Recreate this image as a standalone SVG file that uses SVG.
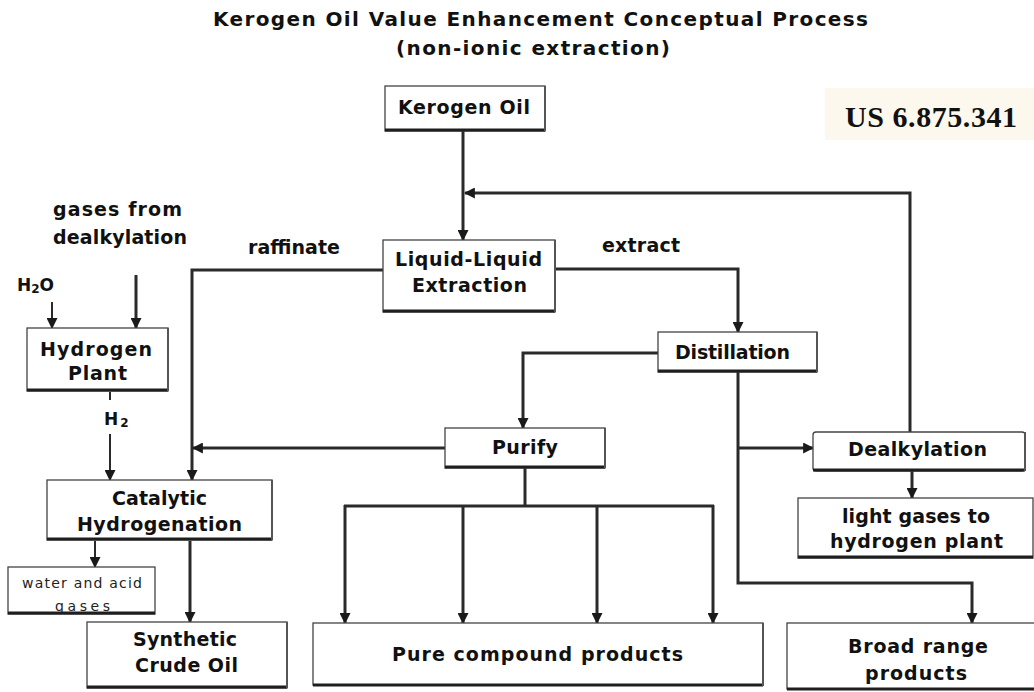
<svg xmlns="http://www.w3.org/2000/svg" width="1034" height="692" viewBox="0 0 1034 692">
<defs>
<marker id="ah" viewBox="0 0 10 10" refX="9" refY="5" markerWidth="11" markerHeight="11" markerUnits="userSpaceOnUse" orient="auto"><path d="M0,0 L10,5 L0,10 z" fill="#1a1a1a"/></marker>
<style>
.box{fill:#fff;stroke:#444;stroke-width:1.3}
.sh{fill:none;stroke:#1e1e1e;stroke-width:3}
.shr{fill:none;stroke:#555;stroke-width:2}
.conn{fill:none;stroke:#2a2a2a;stroke-width:3}
.thin{fill:none;stroke:#2a2a2a;stroke-width:2}
.t{font-family:"DejaVu Sans","Liberation Sans",sans-serif;font-weight:bold;font-size:19px;fill:#111;text-anchor:middle}
.s{font-family:"DejaVu Sans","Liberation Sans",sans-serif;font-size:14px;fill:#222;text-anchor:middle}
.title{font-family:"DejaVu Sans","Liberation Sans",sans-serif;font-weight:bold;font-size:20px;fill:#111;text-anchor:middle}
</style>
</defs>
<rect width="1034" height="692" fill="#fff"/>

<g id="title">
<text class="title" x="540.5" y="26" textLength="655" lengthAdjust="spacing">Kerogen Oil Value Enhancement Conceptual Process</text>
<text class="title" x="533" y="55" textLength="274" lengthAdjust="spacing">(non-ionic extraction)</text>
</g>

<g id="patent">
<rect x="825" y="88" width="209" height="52" fill="#fcf8ee"/>
<text x="845" y="127" font-family="'Liberation Serif','Times New Roman',serif" font-weight="bold" font-size="30" fill="#111" textLength="172" lengthAdjust="spacing">US 6.875.341</text>
</g>

<g id="connectors">
<path class="conn" d="M463,131 V240" marker-end="url(#ah)"/>
<path class="conn" d="M910,432 V193 H465" marker-end="url(#ah)"/>
<path class="conn" d="M383,270 H192 V480" marker-end="url(#ah)"/>
<path class="conn" d="M556,269 H738 V332" marker-end="url(#ah)"/>
<path class="conn" d="M658,353 H523 V428" marker-end="url(#ah)"/>
<path class="conn" d="M445,448 H193" marker-end="url(#ah)"/>
<path class="conn" d="M738,372 V583 H972 V623" marker-end="url(#ah)"/>
<path class="conn" d="M738,448 H813" marker-end="url(#ah)"/>
<path class="conn" d="M912,471 V498" marker-end="url(#ah)"/>
<path class="conn" d="M525,468 V506"/>
<path class="conn" d="M344,506 H714"/>
<path class="conn" d="M345,505 V623" marker-end="url(#ah)"/>
<path class="conn" d="M463,505 V623" marker-end="url(#ah)"/>
<path class="conn" d="M597,505 V623" marker-end="url(#ah)"/>
<path class="conn" d="M713,505 V623" marker-end="url(#ah)"/>
<path class="thin" d="M52,302 V328" marker-end="url(#ah)"/>
<path class="conn" d="M136,275 V328" marker-end="url(#ah)"/>
<path class="thin" d="M110,392 V400"/>
<path class="thin" d="M110,434 V480" marker-end="url(#ah)"/>
<path class="thin" d="M95,541 V567" marker-end="url(#ah)"/>
<path class="conn" d="M190,541 V622" marker-end="url(#ah)"/>
</g>

<g id="kerogen-oil">
<rect class="box" x="385" y="86" width="160" height="45"/>
<path class="sh" d="M385,130 H545"/>
<path class="shr" d="M545,86 V131"/>
<text class="t" x="464" y="114" textLength="132" lengthAdjust="spacing">Kerogen Oil</text>
</g>

<g id="liquid-liquid-extraction">
<rect class="box" x="383" y="240" width="172" height="72"/>
<path class="sh" d="M383,311 H555"/>
<path class="shr" d="M555,240 V312"/>
<text class="t" x="468.5" y="266" textLength="147" lengthAdjust="spacing">Liquid-Liquid</text>
<text class="t" x="469.5" y="292" textLength="115" lengthAdjust="spacing">Extraction</text>
</g>

<g id="labels">
<text class="t" x="117.5" y="216" textLength="129" lengthAdjust="spacing">gases from</text>
<text class="t" x="120" y="244" textLength="134" lengthAdjust="spacing">dealkylation</text>
<text class="t" x="294" y="254" textLength="92" lengthAdjust="spacing">raffinate</text>
<text class="t" x="641" y="252" textLength="78" lengthAdjust="spacing">extract</text>
<text class="t" x="17" y="291" style="text-anchor:start;font-size:17px">H<tspan font-size="12" dy="2">2</tspan><tspan dy="-2">O</tspan></text>
<text class="t" x="104" y="425" style="text-anchor:start;font-size:17px">H<tspan font-size="12" dx="2" dy="2">2</tspan></text>
</g>

<g id="hydrogen-plant">
<rect class="box" x="27" y="328" width="141" height="63"/>
<path class="sh" d="M27,390 H168"/>
<path class="shr" d="M168,328 V391"/>
<text class="t" x="96" y="356" textLength="112" lengthAdjust="spacing">Hydrogen</text>
<text class="t" x="97.5" y="380" textLength="59" lengthAdjust="spacing">Plant</text>
</g>

<g id="distillation">
<rect class="box" x="658" y="332" width="159" height="40"/>
<path class="sh" d="M658,371 H817"/>
<path class="shr" d="M817,332 V372"/>
<text class="t" x="732.5" y="359" textLength="115" lengthAdjust="spacing">Distillation</text>
</g>

<g id="purify">
<rect class="box" x="445" y="428" width="160" height="40"/>
<path class="sh" d="M445,467 H605"/>
<path class="shr" d="M605,428 V468"/>
<text class="t" x="525" y="454" textLength="66" lengthAdjust="spacing">Purify</text>
</g>

<g id="dealkylation">
<rect class="box" x="813" y="432" width="212" height="39" rx="3"/>
<path class="sh" d="M813,470 H1025"/>
<path class="shr" d="M1025,432 V471"/>
<text class="t" x="917.5" y="456" textLength="139" lengthAdjust="spacing">Dealkylation</text>
</g>

<g id="catalytic-hydrogenation">
<rect class="box" x="47" y="480" width="225" height="60"/>
<path class="sh" d="M47,539 H272"/>
<path class="shr" d="M272,480 V540"/>
<text class="t" x="159.5" y="505" textLength="95" lengthAdjust="spacing">Catalytic</text>
<text class="t" x="159.5" y="531" textLength="165" lengthAdjust="spacing">Hydrogenation</text>
</g>

<g id="light-gases">
<rect class="box" x="798" y="498" width="235" height="60"/>
<path class="sh" d="M798,557 H1033"/>
<text class="t" x="916" y="523" textLength="148" lengthAdjust="spacing">light gases to</text>
<text class="t" x="916.5" y="548" textLength="173" lengthAdjust="spacing">hydrogen plant</text>
</g>

<g id="water-acid-gases">
<rect class="box" x="8" y="567" width="147" height="47"/>
<text class="s" x="82" y="588" textLength="120" lengthAdjust="spacing">water and acid</text>
<text class="s" x="82.5" y="611" textLength="55" lengthAdjust="spacing">gases</text>
<path class="sh" d="M8,613 H155"/>
</g>

<g id="synthetic-crude-oil">
<rect class="box" x="87" y="622" width="200" height="66"/>
<path class="sh" d="M87,687 H287"/>
<path class="shr" d="M287,622 V688"/>
<text class="t" x="185" y="646" textLength="104" lengthAdjust="spacing">Synthetic</text>
<text class="t" x="186.5" y="672" textLength="103" lengthAdjust="spacing">Crude Oil</text>
</g>

<g id="pure-compound-products">
<rect class="box" x="313" y="623" width="450" height="62"/>
<path class="sh" d="M313,685 H763"/>
<path class="shr" d="M763,623 V686"/>
<text class="t" x="537.5" y="661" textLength="291" lengthAdjust="spacing">Pure compound products</text>
</g>

<g id="broad-range-products">
<rect class="box" x="787" y="623" width="260" height="66"/>
<path class="sh" d="M787,689 H1034"/>
<text class="t" x="918" y="653" textLength="140" lengthAdjust="spacing">Broad range</text>
<text class="t" x="916" y="680" textLength="102" lengthAdjust="spacing">products</text>
</g>
</svg>
